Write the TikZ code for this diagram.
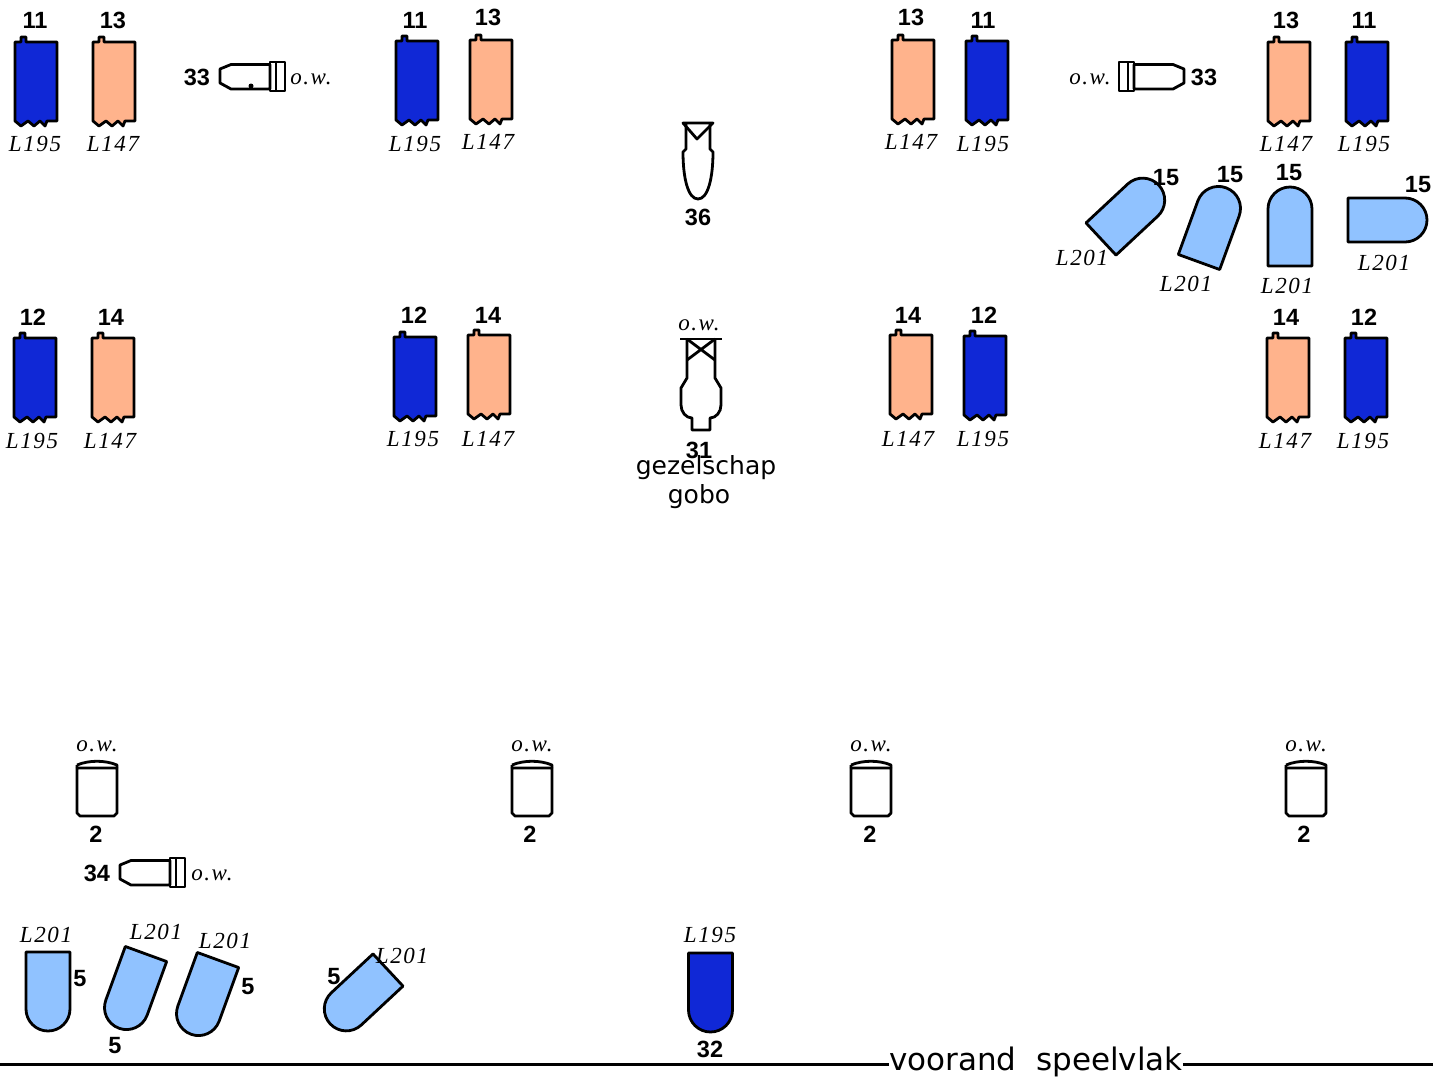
\documentclass[tikz,border=0pt]{standalone}
\usepackage{xcolor}
\usepackage{fontspec}
\setmainfont{Liberation Serif}
\newfontfamily\gelfont[LetterSpace=7]{Liberation Serif}
\newfontfamily\numfont{Liberation Sans}
\newfontfamily\notefont{DejaVu Sans}
\definecolor{gelblue}{RGB}{16,40,214}
\definecolor{gelorange}{RGB}{255,179,140}
\definecolor{gelsky}{RGB}{144,194,255}

\begin{document}
\begin{tikzpicture}[
  x=1pt, y=-1pt,
  line join=round,
  lamp/.style={draw=black, line width=2.8pt},
  num/.style={inner sep=0pt, font=\numfont\bfseries\fontsize{23.5}{23.5}\selectfont},
  gel/.style={inner sep=0pt, font=\gelfont\itshape\fontsize{23}{23}\selectfont},
  note/.style={inner sep=0pt, font=\notefont\fontsize{25}{25}\selectfont},
  stage/.style={inner sep=0pt, font=\notefont\fontsize{31}{31}\selectfont},
  pics/boxlamp/.style={code={
    \draw[lamp, fill=#1] (0,0) -- (6,0) -- (6,-5) -- (11,-5) -- (11,0) -- (42,0) -- (42,79)
      -- (32,79) -- (30,84) -- (25,79) -- (19,84) -- (13,79) -- (6,84) -- (0,79) -- cycle;
  }},
  pics/roundlamp/.style={code={
    \draw[lamp, fill=#1] (-22,0) -- (-22,-57) arc[start angle=180, end angle=360, radius=22] -- (22,0) -- cycle;
  }},
  pics/barrel/.style={code={
    \draw[lamp] (0,7) -- (11,2.5) -- (50,2.5) -- (50,27) -- (11,27) -- (0,21) -- cycle;
    \draw[lamp] (50,0) rectangle (65,29) (56,0) -- (56,29);
  }},
  pics/washlamp/.style={code={
    \draw[lamp] (-20,8) -- (-20,53) -- (-17,56) -- (17,56) -- (20,53) -- (20,8) -- cycle;
    \draw[lamp] (-20,5) .. controls (-8,0) and (8,0) .. (20,5) -- (20,8) (-20,8) -- (-20,5);
  }}
]
  \useasboundingbox (0,0) rectangle (1433,1077);

  % bar lamps
  \foreach \x/\y/\col/\n/\g/\nx/\ny/\gx/\gy in {
    15/42/gelblue/11/L195/35/20/35/144, 93/42/gelorange/13/L147/113/20/113/144,
    396/41/gelblue/11/L195/415/20/415/144, 470/40/gelorange/13/L147/488/17/488/142,
    892/40/gelorange/13/L147/911/17/911/142, 966/41/gelblue/11/L195/983/20/983/144,
    1268/42/gelorange/13/L147/1286/20/1286/144, 1346/42/gelblue/11/L195/1364/20/1364/144,
    14/338/gelblue/12/L195/33/317/32/441, 92/338/gelorange/14/L147/111/317/110/441,
    394/337/gelblue/12/L195/414/315/413/439, 468/335/gelorange/14/L147/488/315/488/439,
    890/335/gelorange/14/L147/908/315/908/439, 964/336/gelblue/12/L195/984/315/983/439,
    1267/338/gelorange/14/L147/1286/317/1285/441, 1345/338/gelblue/12/L195/1364/317/1363/441}{
    \pic at (\x,\y) {boxlamp=\col};
    \node[num] (num\x) at (\nx,\ny) {\n};
    \node[gel] (gel\x) at (\gx,\gy) {\g};
  }

  % side lamps
  \pic at (220,62) {barrel};
  \fill (251,86) circle (2.5);
  \node[num] (num33a) at (197,77) {33};
  \node[gel] (ow33a) at (311,79) {o.w.};
  \pic[xscale=-1] at (1184,62) {barrel};
  \node[num] (num33b) at (1204,77) {33};
  \node[gel] (ow33b) at (1090,79) {o.w.};
  \pic at (120,858) {barrel};
  \node[num] (num34) at (97,873) {34};
  \node[gel] (ow34) at (212,875) {o.w.};

  % centre lamps
  \draw[lamp] (683,123) -- (713,123) -- (697,139) -- cycle;
  \draw[lamp] (686,123) -- (686,149) -- (683,152)
    .. controls (683,178) and (688,199) .. (698,199)
    .. controls (708,199) and (713,178) .. (713,152) -- (710,149) -- (710,123);
  \node[num] (num36) at (698,217) {36};

  \node[gel] (ow31) at (699,325) {o.w.};
  \draw[lamp] (680,339) -- (722,339);
  \draw[lamp] (687,339) -- (687,378) -- (681,388) -- (681,405)
    .. controls (681,412) and (686,418) .. (692,418) -- (692,430) -- (710,430) -- (710,418)
    .. controls (716,418) and (721,412) .. (721,405) -- (721,388) -- (715,378) -- (715,339);
  \draw[lamp] (687,360) -- (715,339) (687,339) -- (715,360);
  \node[num] (num31) at (699,450) {31};
  \node[note] (gobo1) at (706,468) {gezelschap};
  \node[note] (gobo2) at (699,497) {gobo};

  % rear top lamps
  \foreach \x/\y/\r/\nx/\ny/\gx/\gy in {
    1101/239/-47/1166/178/1082/258,
    1199/262/-20/1230/175/1186/284,
    1290/266/0/1289/173/1287/286,
    1348/220/-90/1418/185/1384/263}{
    \pic[rotate=\r] at (\x,\y) {roundlamp=gelsky};
    \node[num] (num\x) at (\nx,\ny) {15};
    \node[gel] (gel\x) at (\gx,\gy) {L201};
  }

  % wash lamps
  \foreach \x/\nx in {97/96, 532/530, 871/870, 1306/1304}{
    \pic at (\x,760) {washlamp};
    \node[gel] (ow\x) at (\x,746) {o.w.};
    \node[num] (num\x) at (\nx,834) {2};
  }

  % front lamps
  \foreach \x/\y/\r/\nx/\ny/\gx/\gy in {
    48/952/180/80/979/46/935,
    146/954/-200/115/1046/156/932,
    218/960/-200/248/987/225/941,
    388/970/-227/334/977/402/956}{
    \pic[rotate=\r] at (\x,\y) {roundlamp=gelsky};
    \node[num] (num\x) at (\nx,\ny) {5};
    \node[gel] (gel\x) at (\gx,\gy) {L201};
  }
  \pic[rotate=180] at (710.5,953) {roundlamp=gelblue};
  \node[gel] (gel32) at (710,935) {L195};
  \node[num] (num32) at (710,1049) {32};

  % stage edge
  \coordinate (edgeL) at (0,1064.5);
  \coordinate (edgeR) at (1433,1064.5);
  \node[stage] (edge) at (1036,1062) {voorand\ \ speelvlak};
  \draw[line width=2.5pt] (edgeL) -- (edge.west |- edgeL) (edge.east |- edgeR) -- (edgeR);
\end{tikzpicture}
\end{document}
